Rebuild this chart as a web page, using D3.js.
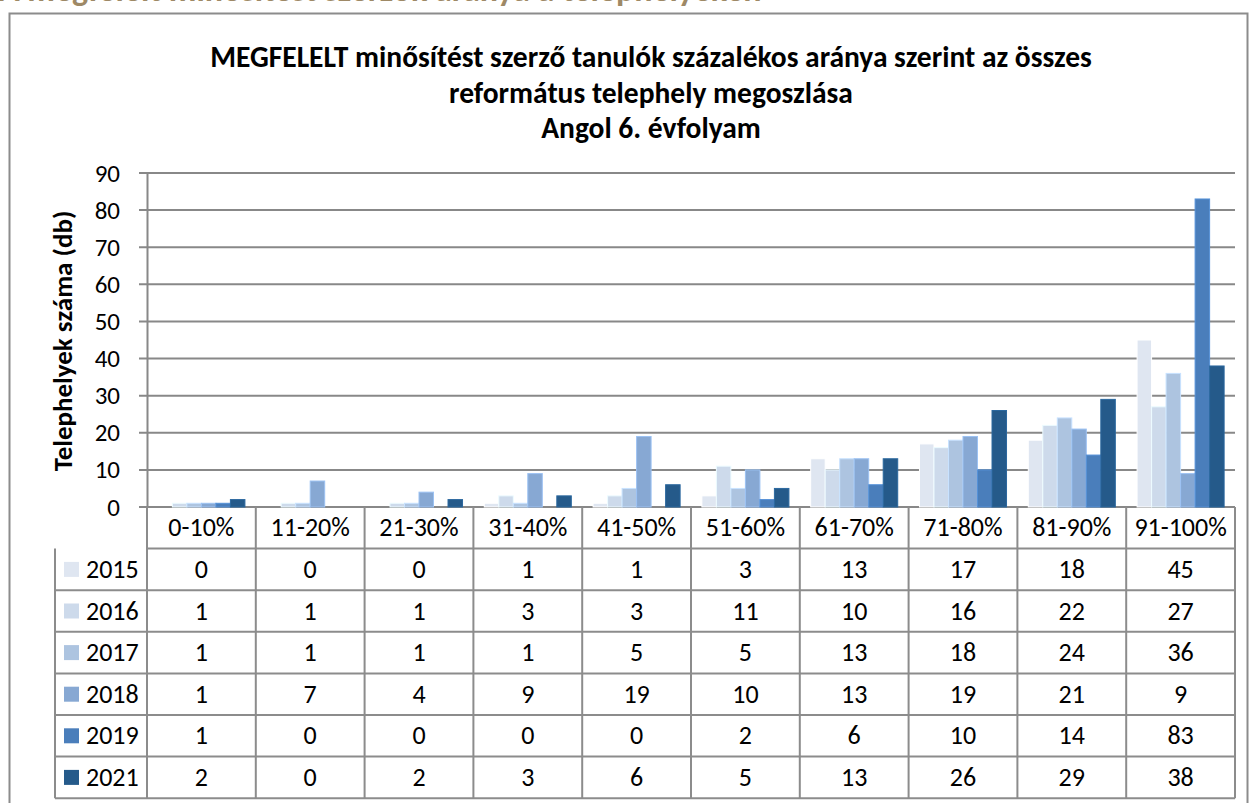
<!DOCTYPE html>
<html>
<head>
<meta charset="utf-8">
<script src="https://cdn.jsdelivr.net/npm/d3@7"></script>
<style>
  html, body { margin: 0; padding: 0; background: #fff; }
  svg { display: block; }
  text { font-family: Carlito, Calibri, "Open Sans", "Noto Sans", sans-serif; }
</style>
</head>
<body>
<svg id="chart" width="1251" height="803"></svg>
<script>
// Score bands (categories) and the survey years (series)
const categories = ["0-10%", "11-20%", "21-30%", "31-40%", "41-50%", "51-60%", "61-70%", "71-80%", "81-90%", "91-100%"];
const years = ["2015", "2016", "2017", "2018", "2019", "2021"];

// Number of sites per score band, one array per year
const v2015 = [0, 0, 0, 1, 1, 3, 13, 17, 18, 45];
const v2016 = [1, 1, 1, 3, 3, 11, 10, 16, 22, 27];
const v2017 = [1, 1, 1, 1, 5, 5, 13, 18, 24, 36];
const v2018 = [1, 7, 4, 9, 19, 10, 13, 19, 21, 9];
const v2019 = [1, 0, 0, 0, 0, 2, 6, 10, 14, 83];
const v2021 = [2, 0, 2, 3, 6, 5, 13, 26, 29, 38];

const yTicks = [0, 10, 20, 30, 40, 50, 60, 70, 80, 90];

const seriesValues = [v2015, v2016, v2017, v2018, v2019, v2021];
const colors = ["#dfe6f1", "#cddaeb", "#adc4e0", "#87a8d3", "#4a7ebb", "#255a8a"];

const FONT = "Carlito, Calibri, 'Open Sans', 'Noto Sans', sans-serif";
const svg = d3.select("#chart");

// Section heading above the frame (partially cut off at the top edge)
svg.append("text")
  .attr("x", -1).attr("y", 0.5)
  .attr("font-size", 34).attr("font-weight", "bold")
  .attr("fill", "#9e8966")
  .text("A megfelelt minősítést szerzők aránya a telephelyeken");

// Outer chart frame
svg.append("rect")
  .attr("x", 9.5).attr("y", 13.5).attr("width", 1238).attr("height", 800)
  .attr("fill", "#fff").attr("stroke", "#8c8c8c").attr("stroke-width", 2);

// Title
const titleLines = [
  "MEGFELELT minősítést szerző tanulók százalékos aránya szerint az összes",
  "református telephely megoszlása",
  "Angol 6. évfolyam"
];
svg.append("g").selectAll("text").data(titleLines).join("text")
  .attr("x", 651).attr("y", (d, i) => 67 + i * 35.5)
  .attr("text-anchor", "middle")
  .attr("font-size", 29.5).attr("font-weight", "bold").attr("fill", "#000")
  .text(d => d);

// Plot geometry
const plotL = 147, plotR = 1235, plotT = 173, plotB = 507;
const x0 = d3.scaleBand().domain(categories).range([plotL, plotR]).paddingInner(0).paddingOuter(0);
const x1 = d3.scaleBand().domain(years).range([0, x0.bandwidth()]).paddingInner(0).paddingOuter(0.75);
const y = d3.scaleLinear().domain([0, 90]).range([plotB, plotT]);

// Gridlines
const grid = svg.append("g");
grid.selectAll("line").data(yTicks).join("line")
  .attr("x1", plotL - 8).attr("x2", plotR)
  .attr("y1", d => y(d)).attr("y2", d => y(d))
  .attr("stroke", "#888").attr("stroke-width", 2);

// Y axis
const yAxis = d3.axisLeft(y).tickValues(yTicks).tickSize(0).tickPadding(27);
const yg = svg.append("g").attr("transform", `translate(${plotL},0)`).call(yAxis);
yg.select(".domain").attr("stroke", "#888").attr("stroke-width", 2);
yg.selectAll("text").attr("font-size", 25).attr("fill", "#000")
  .attr("font-family", FONT);

// Y axis title
svg.append("text")
  .attr("transform", "translate(72,341) rotate(-90)")
  .attr("text-anchor", "middle")
  .attr("font-size", 27).attr("font-weight", "bold").attr("fill", "#000")
  .text("Telephelyek száma (db)");

// Bars
const bars = svg.append("g");
years.forEach((yr, si) => {
  bars.append("g").selectAll("rect").data(seriesValues[si]).join("rect")
    .attr("x", (d, i) => x0(categories[i]) + x1(yr))
    .attr("width", x1.bandwidth())
    .attr("y", d => y(d))
    .attr("height", d => plotB - y(d))
    .attr("fill", colors[si])
    .attr("stroke", d3.color(colors[si]).brighter(0.4))
    .attr("stroke-width", d => d > 0 ? 1 : 0);
});

// Data table under the plot
const rowH = 41.6;
const legendLeft = 55;
const table = svg.append("g");
const lineStyle = sel => sel.attr("stroke", "#8c8c8c").attr("stroke-width", 2);

// horizontal rules
const rowYs = d3.range(years.length + 2).map(i => plotB + i * rowH);
table.selectAll("line.h").data(rowYs.slice(1)).join("line")
  .attr("class", "h")
  .attr("x1", (d, i) => i === 0 ? plotL : legendLeft).attr("x2", plotR)
  .attr("y1", d => d).attr("y2", d => d)
  .call(lineStyle);

// vertical rules
const colXs = categories.map(c => x0(c)).concat([plotR]);
table.selectAll("line.v").data(colXs).join("line")
  .attr("class", "v")
  .attr("x1", d => d).attr("x2", d => d)
  .attr("y1", plotB).attr("y2", rowYs[rowYs.length - 1])
  .call(lineStyle);
table.append("line")
  .attr("x1", legendLeft).attr("x2", legendLeft)
  .attr("y1", rowYs[1]).attr("y2", rowYs[rowYs.length - 1])
  .call(lineStyle);

// category header row
table.selectAll("text.cat").data(categories).join("text")
  .attr("class", "cat")
  .attr("x", d => x0(d) + x0.bandwidth() / 2)
  .attr("y", plotB + rowH / 2 + 8.5)
  .attr("text-anchor", "middle")
  .attr("font-size", 26).attr("fill", "#000")
  .text(d => d);

// series rows with legend keys
years.forEach((yr, si) => {
  const cy = plotB + (si + 1.5) * rowH;
  table.append("rect")
    .attr("x", 64).attr("y", cy - 7.5).attr("width", 15).attr("height", 15)
    .attr("fill", colors[si]);
  table.append("text")
    .attr("x", 86).attr("y", cy + 8.5)
    .attr("font-size", 26).attr("fill", "#000")
    .text(yr);
  table.append("g").selectAll("text").data(seriesValues[si]).join("text")
    .attr("x", (d, i) => x0(categories[i]) + x0.bandwidth() / 2)
    .attr("y", cy + 8.5)
    .attr("text-anchor", "middle")
    .attr("font-size", 26).attr("fill", "#000")
    .text(d => d);
});
</script>
</body>
</html>
